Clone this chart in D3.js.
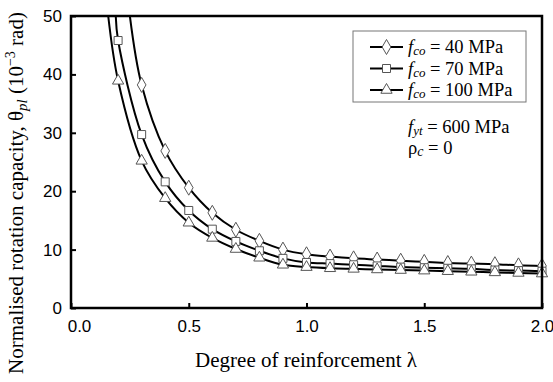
<!DOCTYPE html>
<html><head><meta charset="utf-8">
<script src="https://cdn.jsdelivr.net/npm/d3@7"></script>
<style>body{margin:0;background:#fff}svg{display:block}</style>
</head><body>
<svg id="c" width="553" height="382"></svg>
<script>
// ---- data ----
const lambdas = [0.2,0.3,0.4,0.5,0.6,0.7,0.8,0.9,1.0,1.1,1.2,1.3,1.4,1.5,1.6,1.7,1.8,1.9,2.0];
const fco40  = [null,38.2,26.9,20.6,16.3,13.4,11.5,10.0,9.2,8.8,8.5,8.3,8.1,7.9,7.7,7.6,7.5,7.3,7.2];
const fco70  = [45.8,29.7,21.6,16.7,13.5,11.4,9.8,8.5,7.8,7.6,7.4,7.2,7.0,6.9,6.8,6.7,6.5,6.4,6.3];
const fco100 = [38.9,25.2,18.8,14.6,12.0,10.1,8.6,7.4,7.0,6.8,6.7,6.6,6.5,6.4,6.3,6.2,6.1,6.0,5.9];
// where each curve leaves the top of the plot (lambda, value)
const curveStart = [[0.25,50.0],[0.19,50.0],[0.158,50.0]];
const seriesNames = ["40 MPa","70 MPa","100 MPa"];
const markerTypes = ["diamond","square","triangle"];
const xTicks = [0.0,0.5,1.0,1.5,2.0];
const yTicks = [0,10,20,30,40,50];

// ---- chart ----
const svg = d3.select("#c");
const L=71, R=542, T=16, B=308;
const x = d3.scaleLinear().domain([0,2]).range([L,R]);
const y = d3.scaleLinear().domain([0,50]).range([B,T]);
const serif = "Liberation Serif, Times New Roman, serif";

svg.append("clipPath").attr("id","clip").append("rect")
  .attr("x",L).attr("y",T).attr("width",R-L).attr("height",B-T);

const series = [fco40,fco70,fco100];
const line = d3.line().x(d=>x(d[0])).y(d=>y(d[1])).curve(d3.curveCatmullRom.alpha(0.5));

series.forEach((vals,i)=>{
  const pts = [curveStart[i]].concat(lambdas.map((l,j)=>[l,vals[j]]).filter(d=>d[1]!=null));
  svg.append("path").datum(pts).attr("d",line).attr("clip-path","url(#clip)")
    .attr("fill","none").attr("stroke","#000").attr("stroke-width",2);
});

const sym = {diamond:d3.symbol().type(d3.symbolDiamond).size(65),
             square:d3.symbol().type(d3.symbolSquare).size(64),
             triangle:d3.symbol().type(d3.symbolTriangle).size(55)};
series.forEach((vals,i)=>{
  svg.append("g").selectAll("path").data(lambdas.map((l,j)=>[l,vals[j]]).filter(d=>d[1]!=null))
    .join("path").attr("d",sym[markerTypes[i]]())
    .attr("transform",d=>`translate(${x(d[0])},${y(d[1])})`)
    .attr("fill","#fff").attr("stroke","#555").attr("stroke-width",1);
});

// frame
svg.append("rect").attr("x",L).attr("y",T).attr("width",R-L).attr("height",B-T)
  .attr("fill","none").attr("stroke","#000").attr("stroke-width",2.5);

// axes
const xa = svg.append("g").attr("transform",`translate(0,${B})`)
  .call(d3.axisBottom(x).tickValues(xTicks).tickFormat(d3.format(".1f")).tickSizeInner(-5).tickSizeOuter(0).tickPadding(12));
const ya = svg.append("g").attr("transform",`translate(${L},0)`)
  .call(d3.axisLeft(y).tickValues(yTicks).tickSizeInner(-5).tickSizeOuter(0).tickPadding(9));
[xa,ya].forEach(a=>{
  a.select(".domain").remove();
  a.selectAll("line").attr("stroke","#000").attr("stroke-width",2);
  a.selectAll("text").attr("font-family","Liberation Sans, Arial, sans-serif").attr("font-size",17).attr("fill","#000");
});
xa.selectAll("text").filter(d=>d===0).attr("dx",8);

// axis titles
svg.append("text").attr("x",306).attr("y",367).attr("text-anchor","middle")
  .attr("font-family",serif).attr("font-size",21)
  .text("Degree of reinforcement λ");
const yt = svg.append("text").attr("transform","translate(23,193) rotate(-90)").attr("text-anchor","middle")
  .attr("font-family",serif).attr("font-size",21);
yt.append("tspan").text("Normalised rotation capacity, θ");
yt.append("tspan").attr("font-style","italic").attr("font-size",15).attr("dy",4).text("pl");
yt.append("tspan").attr("dy",-4).text(" (10");
yt.append("tspan").attr("font-size",14).attr("dy",-8).text("−3");
yt.append("tspan").attr("dy",8).text(" rad)");

// legend
const lg = svg.append("g");
lg.append("rect").attr("x",353).attr("y",31).attr("width",173).attr("height",71)
  .attr("fill","#fff").attr("stroke","#777").attr("stroke-width",1);
seriesNames.forEach((n,i)=>{
  const yy = 47 + i*21.5;
  lg.append("line").attr("x1",370).attr("x2",403).attr("y1",yy).attr("y2",yy).attr("stroke","#000").attr("stroke-width",2);
  lg.append("path").attr("d",sym[markerTypes[i]]()).attr("transform",`translate(386.5,${yy})`)
    .attr("fill","#fff").attr("stroke","#555");
  const t = lg.append("text").attr("x",408).attr("y",yy+6)
    .attr("font-family",serif).attr("font-size",18.5);
  t.append("tspan").attr("font-style","italic").text("f");
  t.append("tspan").attr("font-style","italic").attr("font-size",13).attr("dy",2).text("co");
  t.append("tspan").attr("dy",-2).text(" = "+n);
});
const a1 = svg.append("text").attr("x",408).attr("y",133)
  .attr("font-family",serif).attr("font-size",18.5);
a1.append("tspan").attr("font-style","italic").text("f");
a1.append("tspan").attr("font-style","italic").attr("font-size",13).attr("dy",2).text("yt");
a1.append("tspan").attr("dy",-2).text(" = 600 MPa");
const a2 = svg.append("text").attr("x",408).attr("y",154)
  .attr("font-family",serif).attr("font-size",18.5);
a2.append("tspan").text("ρ");
a2.append("tspan").attr("font-style","italic").attr("font-size",14).attr("dy",2).text("c");
a2.append("tspan").attr("dy",-2).text(" = 0");
</script>
</body></html>
